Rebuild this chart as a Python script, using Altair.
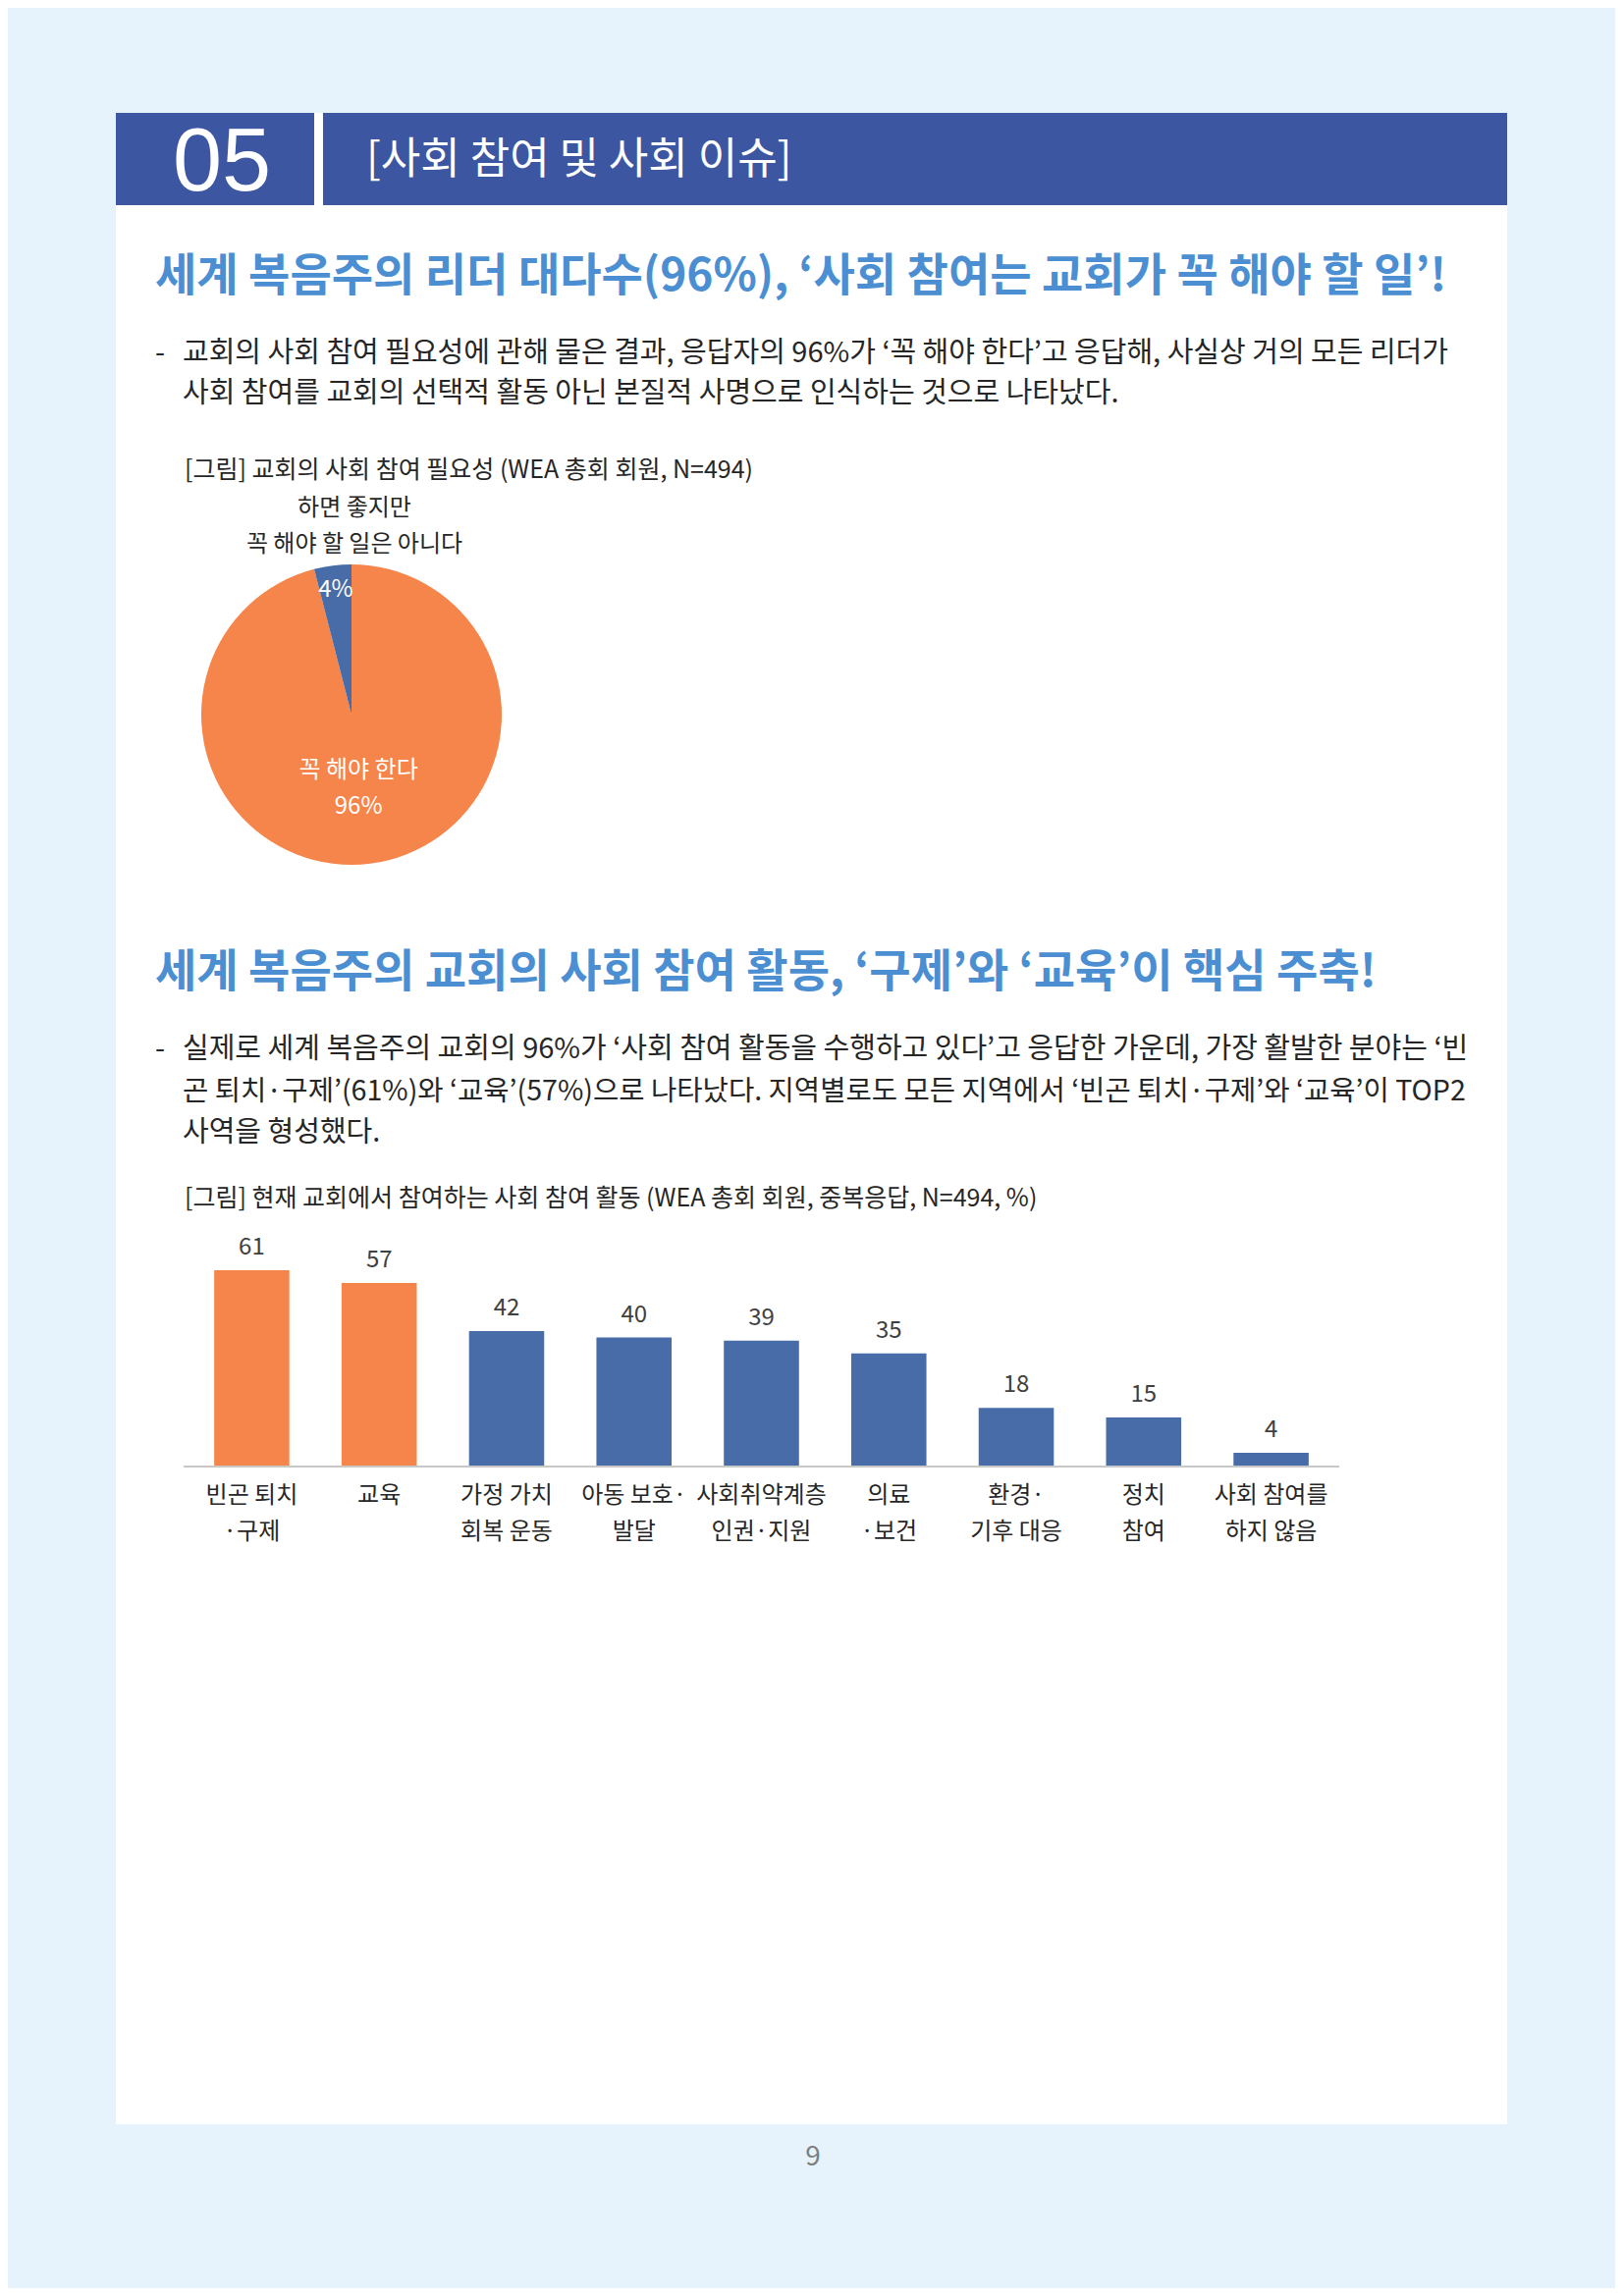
import altair as alt
import pandas as pd

# page texts
SECTION_NO = "05"
SECTION_TITLE = "[사회 참여 및 사회 이슈]"
HEADLINE_1 = "세계 복음주의 리더 대다수(96%), ‘사회 참여는 교회가 꼭 해야 할 일’!"
BODY_1 = [
    "교회의 사회 참여 필요성에 관해 물은 결과, 응답자의 96%가 ‘꼭 해야 한다’고 응답해, 사실상 거의 모든 리더가",
    "사회 참여를 교회의 선택적 활동 아닌 본질적 사명으로 인식하는 것으로 나타났다.",
]
CAPTION_1 = "[그림] 교회의 사회 참여 필요성 (WEA 총회 회원, N=494)"
HEADLINE_2 = "세계 복음주의 교회의 사회 참여 활동, ‘구제’와 ‘교육’이 핵심 주축!"
BODY_2 = [
    "실제로 세계 복음주의 교회의 96%가 ‘사회 참여 활동을 수행하고 있다’고 응답한 가운데, 가장 활발한 분야는 ‘빈",
    "곤 퇴치·구제’(61%)와 ‘교육’(57%)으로 나타났다. 지역별로도 모든 지역에서 ‘빈곤 퇴치·구제’와 ‘교육’이 TOP2",
    "사역을 형성했다.",
]
CAPTION_2 = "[그림] 현재 교회에서 참여하는 사회 참여 활동 (WEA 총회 회원, 중복응답, N=494, %)"
PAGE_NO = "9"

# pie data
PIE_LABELS = ["꼭 해야 한다", "하면 좋지만 꼭 해야 할 일은 아니다"]
PIE_VALUES = [96, 4]
PIE_OUTSIDE = ["하면 좋지만", "꼭 해야 할 일은 아니다"]

# bar data
CATEGORY_LINES = [
    ["빈곤 퇴치", "·구제"],
    ["교육"],
    ["가정 가치", "회복 운동"],
    ["아동 보호·", "발달"],
    ["사회취약계층", "인권·지원"],
    ["의료", "·보건"],
    ["환경·", "기후 대응"],
    ["정치", "참여"],
    ["사회 참여를", "하지 않음"],
]
VALUES = [61, 57, 42, 40, 39, 35, 18, 15, 4]
TOP_N = 2

FONT = "Noto Sans CJK KR"
ORANGE = "#F5854A"
BLUE = "#476CA8"
HEAD_BLUE = "#3C56A2"
TITLE_BLUE = "#4B8FD2"
INK = "#262626"
M = 8  # page margin


def box(x1, x2, y1, y2, color):
    return (
        alt.Chart(alt.Data(values=[{"k": 0}]))
        .mark_rect(color=color)
        .encode(
            x=alt.value(x1 - M), x2=alt.value(x2 - M),
            y=alt.value(y1 - M), y2=alt.value(y2 - M),
        )
    )


def label(text, x, y, size, color=INK, weight="normal", align="left", font=FONT,
          baseline="middle", line_height=None):
    opts = dict(align=align, baseline=baseline, fontSize=size, font=font,
                fontWeight=weight, color=color)
    if line_height:
        opts["lineHeight"] = line_height
    return (
        alt.Chart(alt.Data(values=[{"t": text}]))
        .mark_text(**opts)
        .encode(x=alt.value(x - M), y=alt.value(y - M), text="t:N")
    )


def main():
    cats = [" ".join(lines) for lines in CATEGORY_LINES]
    bar_df = pd.DataFrame(
        {
            "category": cats,
            "lines": CATEGORY_LINES,
            "value": VALUES,
            "top": [i < TOP_N for i in range(len(VALUES))],
        }
    )
    pie_df = pd.DataFrame(
        {
            "response": PIE_LABELS,
            "value": PIE_VALUES,
            "idx": list(range(len(PIE_VALUES))),
            "pct": [f"{v}%" for v in PIE_VALUES],
        }
    )

    # page frame
    layers = [
        box(118, 1535, 115, 2164, "white"),
        box(118, 320, 115, 209, HEAD_BLUE),
        box(329, 1535, 115, 209, HEAD_BLUE),
        label(SECTION_NO, 226, 194, 90, "white", align="center",
              font="Liberation Sans", baseline="alphabetic"),
        label(SECTION_TITLE, 373, 164, 44, "white"),
        label(HEADLINE_1, 158, 282, 46, TITLE_BLUE, weight="bold"),
        label("-", 158, 360, 29),
        label(BODY_1[0], 186, 360, 29),
        label(BODY_1[1], 186, 401, 29),
        label(CAPTION_1, 188, 479, 25),
        label(PIE_OUTSIDE, 361, 518, 24, align="center", line_height=37),
        label(HEADLINE_2, 158, 991, 46, TITLE_BLUE, weight="bold"),
        label("-", 158, 1069, 29),
        label(BODY_2[0], 186, 1069, 29),
        label(BODY_2[1], 186, 1112, 28.6),
        label(BODY_2[2], 186, 1154, 29),
        label(CAPTION_2, 188, 1221, 25),
        label(PAGE_NO, 828, 2198, 28, "#7F7F7F", align="center"),
    ]

    # pie
    cx, cy = 358 - M, 728 - M
    pie_base = alt.Chart(pie_df).encode(
        theta=alt.Theta("value:Q", stack=True),
        order=alt.Order("idx:Q"),
        x=alt.value(cx),
        y=alt.value(cy),
    )
    pie = pie_base.mark_arc(radius=153).encode(
        color=alt.Color(
            "response:N",
            scale=alt.Scale(domain=PIE_LABELS, range=[ORANGE, BLUE]),
            legend=None,
        )
    )
    pie_big = (
        pie_base.mark_text(radius=57, fontSize=24, font=FONT, color="white",
                           lineHeight=37)
        .transform_calculate(t="datum.idx == 0 ? [datum.response, datum.pct] : ''")
        .encode(text="t:N")
    )
    pie_small = (
        pie_base.mark_text(radius=128, fontSize=24, font=FONT, color="white")
        .transform_calculate(t="datum.idx == 1 ? datum.pct : ''")
        .encode(text="t:N")
    )

    # bars
    base_y, top_y = 1493 - M, 1294 - M
    x_enc = alt.X(
        "category:N",
        sort=cats,
        axis=None,
        scale=alt.Scale(range=[187 - M, 1364 - M], paddingInner=0.41,
                        paddingOuter=0.24),
    )
    y_enc = alt.Y(
        "value:Q",
        axis=None,
        scale=alt.Scale(domain=[0, max(VALUES)], range=[base_y, top_y],
                        nice=False),
    )
    bar_base = alt.Chart(bar_df).encode(x=x_enc)
    bars = bar_base.mark_bar().encode(
        y=y_enc,
        y2=alt.datum(0),
        color=alt.condition("datum.top", alt.value(ORANGE), alt.value(BLUE)),
    )
    values = bar_base.mark_text(
        baseline="alphabetic", dy=-16, fontSize=24, font=FONT, color="#404040"
    ).encode(y=y_enc, text="value:Q")
    xlabels = bar_base.mark_text(
        baseline="middle", fontSize=24, font=FONT, color=INK, lineHeight=37
    ).encode(y=alt.value(1524 - M), text="lines:N")
    baseline = (
        alt.Chart(alt.Data(values=[{"v": 0}]))
        .mark_rule(color="#C8C8C8", strokeWidth=2)
        .encode(x=alt.value(187 - M), x2=alt.value(1364 - M), y=alt.value(base_y + 1))
    )

    chart = (
        alt.layer(*layers, pie, pie_big, pie_small, baseline, bars, values, xlabels)
        .properties(
            width=1653 - 2 * M,
            height=2339 - 2 * M,
            padding=0,
            autosize=alt.AutoSizeParams(type="none"),
            background="#E7F3FC",
        )
        .configure_view(strokeWidth=0, fill=None)
    )
    chart.save("out.html", embed_options={"renderer": "svg", "actions": False})


if __name__ == "__main__":
    main()
